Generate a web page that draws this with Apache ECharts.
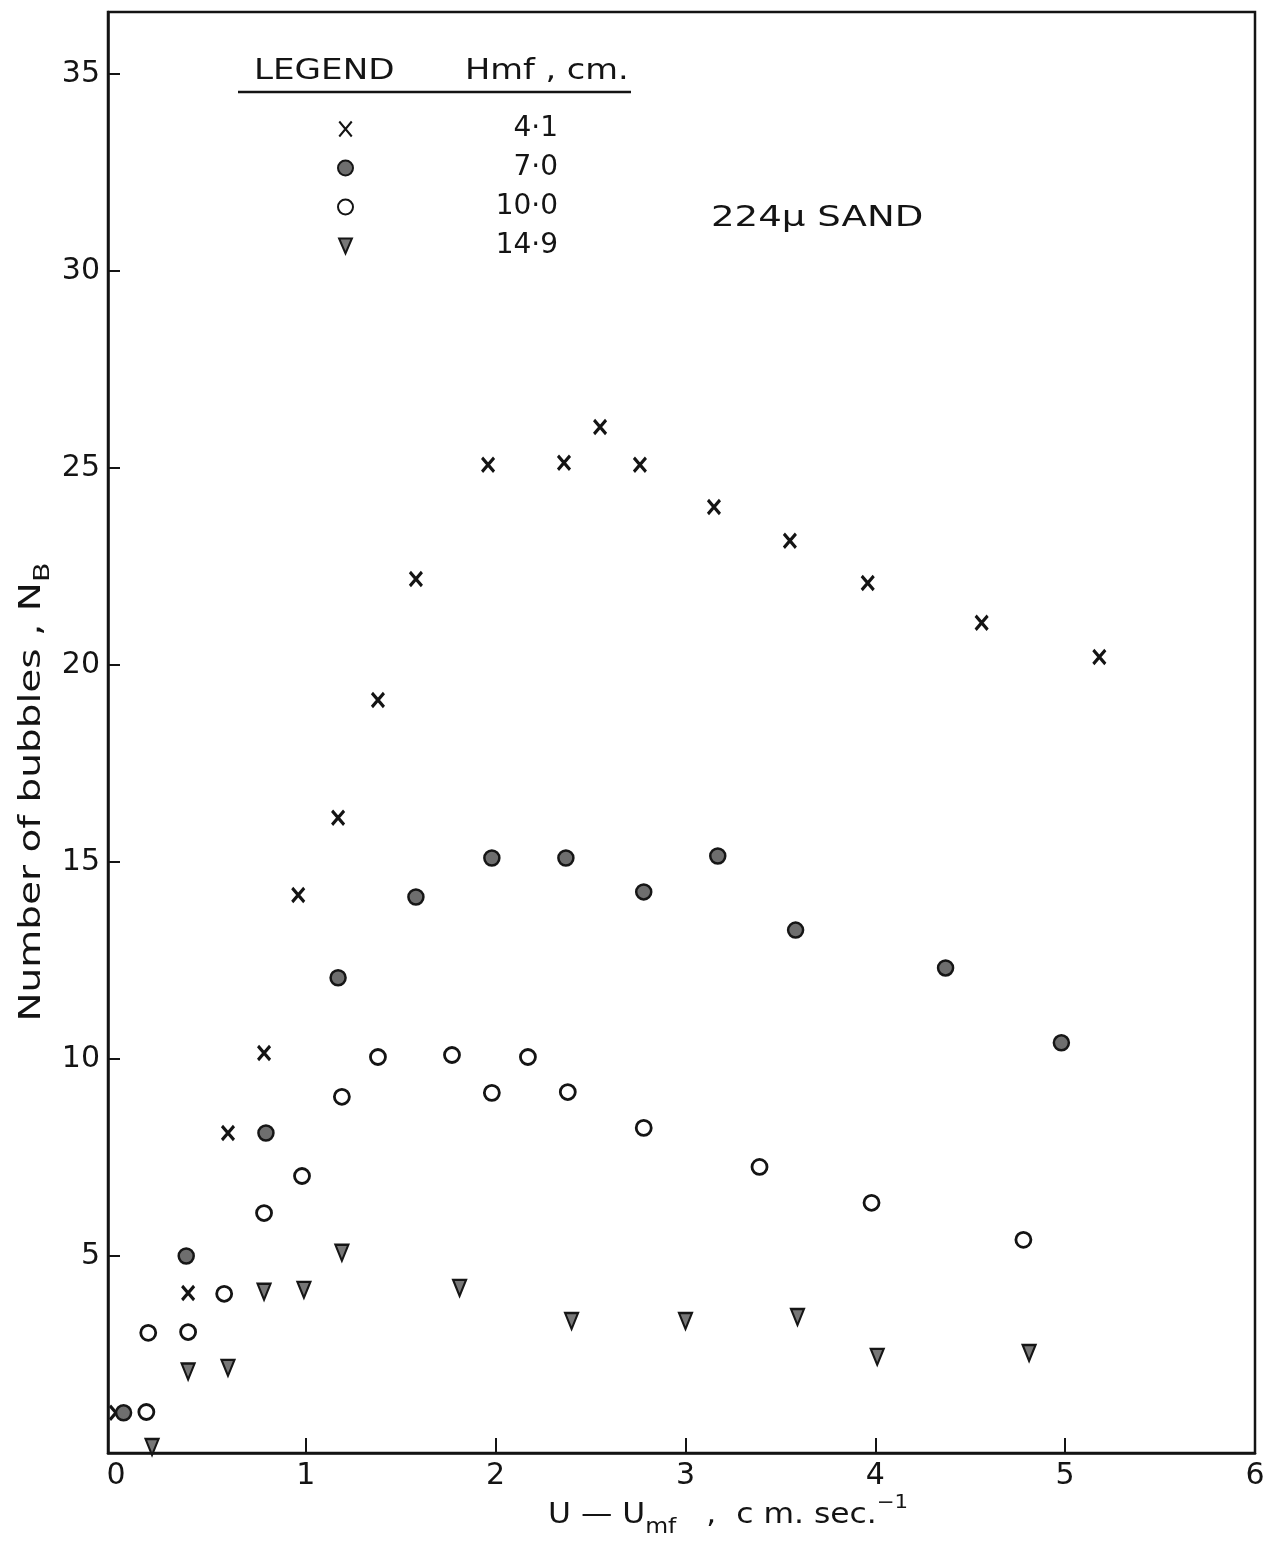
<!DOCTYPE html>
<html>
<head>
<meta charset="utf-8">
<script src="https://cdn.jsdelivr.net/npm/echarts@6/dist/echarts.min.js"></script>
<style>
  html, body { margin: 0; padding: 0; background: #ffffff; }
  #chart { width: 1274px; height: 1544px; }
</style>
</head>
<body>
<div id="chart"></div>
<script>
// Number of bubbles N_B against excess gas velocity U - Umf, 224 micron sand,
// one series per settled bed height Hmf (cm).
const seriesNames = ['4·1', '7·0', '10·0', '14·9'];

const bedH41 = [
  [0.00, 1.02], [0.38, 4.06], [0.59, 8.12], [0.78, 10.15], [0.96, 14.16],
  [1.17, 16.12], [1.38, 19.11], [1.58, 22.18], [1.96, 25.08], [2.36, 25.13],
  [2.55, 26.04], [2.76, 25.08], [3.15, 24.01], [3.55, 23.15], [3.96, 22.08],
  [4.56, 21.07], [5.18, 20.20]
];
const bedH70 = [
  [0.04, 1.02], [0.37, 5.00], [0.79, 8.12], [1.17, 12.06], [1.58, 14.11],
  [1.98, 15.10], [2.37, 15.10], [2.78, 14.24], [3.17, 15.15], [3.58, 13.27],
  [4.37, 12.31], [4.98, 10.41]
];
const bedH100 = [
  [0.16, 1.04], [0.17, 3.05], [0.38, 3.07], [0.57, 4.04], [0.78, 6.09],
  [0.98, 7.03], [1.19, 9.04], [1.38, 10.05], [1.77, 10.10], [1.98, 9.14],
  [2.17, 10.05], [2.38, 9.16], [2.78, 8.25], [3.39, 7.26], [3.98, 6.35],
  [4.78, 5.41]
];
const bedH149 = [
  [0.19, 0.15], [0.38, 2.07], [0.59, 2.16], [0.78, 4.09], [0.99, 4.14],
  [1.19, 5.08], [1.81, 4.19], [2.40, 3.35], [3.00, 3.35], [3.59, 3.45],
  [4.01, 2.44], [4.81, 2.54]
];

const xTickLabels = [0, 1, 2, 3, 4, 5, 6];
const xTickMarks = [1, 2, 3, 4, 5];
const yTickLabels = [5, 10, 15, 20, 25, 30, 35];

const FONT = 'DejaVu Sans';
const INK = '#141414';

const chart = echarts.init(document.getElementById('chart'), null, { renderer: 'canvas' });

const option = {
  animation: false,
  backgroundColor: '#ffffff',
  grid: {
    left: 108, right: 19, top: 12, bottom: 91,
    show: true, borderColor: INK, borderWidth: 2.5, backgroundColor: 'transparent'
  },
  xAxis: {
    type: 'value',
    min: -0.042, max: 6,
    axisLine: { show: true, onZero: false, lineStyle: { color: INK, width: 2.5 } },
    axisTick: { show: true, inside: true, length: 15, customValues: xTickMarks, lineStyle: { color: INK, width: 2 } },
    axisLabel: {
      customValues: xTickLabels,
      formatter: v => String(Math.round(v)),
      fontFamily: FONT, fontSize: 30, color: INK, margin: 8
    },
    splitLine: { show: false }
  },
  yAxis: {
    type: 'value',
    min: 0, max: 36.57,
    axisLine: { show: true, onZero: false, lineStyle: { color: INK, width: 2.5 } },
    axisTick: { show: true, inside: true, length: 12, customValues: yTickLabels, lineStyle: { color: INK, width: 2 } },
    axisLabel: {
      customValues: yTickLabels,
      formatter: v => String(Math.round(v)),
      fontFamily: FONT, fontSize: 30, color: INK, margin: 8
    },
    splitLine: { show: false }
  },
  legend: {
    orient: 'vertical',
    left: 332, top: 109,
    itemWidth: 15, itemHeight: 15, itemGap: 9,
    selectedMode: false,
    data: seriesNames,
    formatter: n => '{v|' + n + '}',
    textStyle: {
      fontFamily: FONT, fontSize: 28, color: INK, lineHeight: 30,
      rich: { v: { width: 200, align: 'right', fontFamily: FONT, fontSize: 28, color: INK, lineHeight: 30 } }
    }
  },
  series: [
    {
      type: 'scatter', name: seriesNames[0], data: bedH41,
      symbol: 'path://M0,0L10,12M10,0L0,12', symbolSize: [12, 14],
      itemStyle: { color: 'rgba(0,0,0,0)', borderColor: INK, borderWidth: 3.2, opacity: 1 }
    },
    {
      type: 'scatter', name: seriesNames[1], data: bedH70,
      symbol: 'circle', symbolSize: 15,
      itemStyle: { color: '#6e6e6e', borderColor: '#161616', borderWidth: 2.5, opacity: 1 }
    },
    {
      type: 'scatter', name: seriesNames[2], data: bedH100,
      symbol: 'circle', symbolSize: 15,
      itemStyle: { color: '#ffffff', borderColor: INK, borderWidth: 2.8, opacity: 1 }
    },
    {
      type: 'scatter', name: seriesNames[3], data: bedH149,
      symbol: 'path://M0,0L12,0L6,14Z', symbolSize: [13, 16],
      itemStyle: { color: '#777777', borderColor: '#161616', borderWidth: 2.2, opacity: 1 }
    }
  ],
  graphic: [
    {
      type: 'text', x: 254, y: 72, scaleX: 1.22,
      style: { text: 'LEGEND', fontFamily: FONT, fontSize: 28, fill: INK, verticalAlign: 'middle' }
    },
    {
      type: 'text', x: 465, y: 72, scaleX: 1.2,
      style: { text: 'Hmf , cm.', fontFamily: FONT, fontSize: 28, fill: INK, verticalAlign: 'middle' }
    },
    {
      type: 'line',
      shape: { x1: 238, y1: 92, x2: 631, y2: 92 },
      style: { stroke: INK, lineWidth: 2.5 }
    },
    {
      type: 'text', x: 711, y: 218, scaleX: 1.28,
      style: { text: '224μ SAND', fontFamily: FONT, fontSize: 29, fill: INK, verticalAlign: 'middle' }
    },
    {
      type: 'text', x: 32, y: 792, rotation: Math.PI / 2, scaleX: 1.3,
      style: {
        text: '{m|Number of bubbles , N}{s|B}',
        align: 'center', verticalAlign: 'middle',
        rich: {
          m: { fontFamily: FONT, fontSize: 30, fill: INK, lineHeight: 44, verticalAlign: 'middle' },
          s: { fontFamily: FONT, fontSize: 22, fill: INK, lineHeight: 22, verticalAlign: 'bottom' }
        }
      }
    },
    {
      type: 'text', x: 548, y: 1516, scaleX: 1.12,
      style: {
        text: '{m|U — U}{s|mf}{m|   ,  c m. sec.}{p|−1}',
        align: 'left', verticalAlign: 'middle',
        rich: {
          m: { fontFamily: FONT, fontSize: 28, fill: INK, lineHeight: 44, verticalAlign: 'middle' },
          s: { fontFamily: FONT, fontSize: 21, fill: INK, lineHeight: 21, verticalAlign: 'bottom' },
          p: { fontFamily: FONT, fontSize: 19, fill: INK, lineHeight: 19, verticalAlign: 'top' }
        }
      }
    }
  ]
};

chart.setOption(option);
</script>
</body>
</html>
